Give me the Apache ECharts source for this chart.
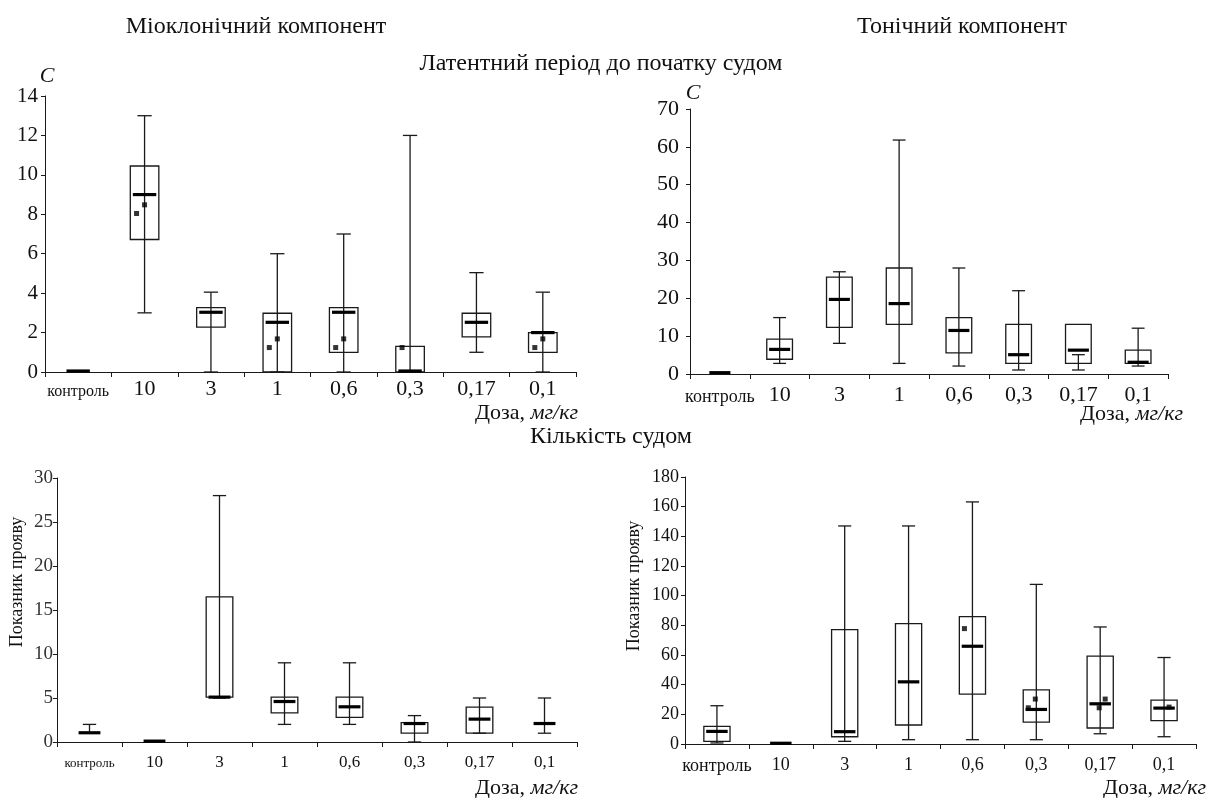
<!DOCTYPE html>
<html>
<head>
<meta charset="utf-8">
<script src="https://cdn.jsdelivr.net/npm/echarts@6/dist/echarts.min.js"></script>
<style>
html,body{margin:0;padding:0;background:#fff;}
#chart{width:1209px;height:798px;}
</style>
</head>
<body>
<div id="chart"></div>
<script>
// ---------- data ----------
const categories = ['контроль', '10', '3', '1', '0,6', '0,3', '0,17', '0,1'];

// Panel 1: myoclonic component, latency (s)
const myoLatMin = [0, 3, 0, 0, 0, 0, 1, 0];
const myoLatQ1  = [0, 6.72, 2.28, 0, 1.0, 0, 1.78, 1.0];
const myoLatMed = [0.05, 9.0, 3.03, 2.52, 3.03, 0.05, 2.52, 2.0];
const myoLatQ3  = [0, 10.45, 3.27, 2.98, 3.27, 1.3, 2.98, 2.0];
const myoLatMax = [0, 13, 4.05, 6.0, 7.0, 12.0, 5.04, 4.05];
const myoLatPtsLeft   = ['-', 8.04, '-', 1.24, 1.24, 1.24, '-', 1.24];
const myoLatPtsCenter = ['-', 8.48, '-', 1.68, 1.68, '-', '-', 1.68];

// Panel 2: tonic component, latency (s)
const tonLatMin = [0.35, 2.8, 8.1, 2.8, 2.1, 1.06, 1.06, 2.1];
const tonLatQ1  = [0.35, 3.9, 12.3, 13.1, 5.6, 2.8, 2.8, 2.8];
const tonLatMed = [0.35, 6.5, 19.7, 18.6, 11.5, 5.1, 6.3, 3.1];
const tonLatQ3  = [0.35, 9.2, 25.6, 28.0, 14.9, 13.1, 13.1, 6.3];
const tonLatMax = [0.35, 14.9, 27, 61.8, 28, 22.0, 5.1, 12.1];

// Panel 3: myoclonic component, number of seizures
const myoCntMin = [1, 0.1, 5, 2, 2, 0, 1, 1];
const myoCntQ1  = [1, 0.1, 5.1, 3.3, 2.8, 1.0, 1.0, 2];
const myoCntMed = [1.05, 0.1, 5.1, 4.6, 4.0, 2.1, 2.6, 2.1];
const myoCntQ3  = [1, 0.1, 16.5, 5.1, 5.1, 2.2, 3.97, 2];
const myoCntMax = [2, 0.1, 28, 9, 9, 3, 5, 5];

// Panel 4: tonic component, number of seizures
const tonCntMin = [0.7, 0.5, 1.8, 2.9, 2.9, 2.9, 6.9, 4.9];
const tonCntQ1  = [1.8, 0.5, 4.9, 12.8, 33.6, 14.8, 10.8, 15.7];
const tonCntMed = [8.5, 0.5, 8.3, 41.9, 65.9, 23.3, 27.1, 24.2];
const tonCntQ3  = [11.9, 0.5, 77.1, 81.1, 85.9, 36.5, 59.2, 29.6];
const tonCntMax = [25.8, 0.5, 147, 147, 163.2, 107.6, 78.9, 58.3];
const tonCntPtsLeft   = ['-', '-', '-', '-', 77.8, 24.4, '-', '-'];
const tonCntPtsCenter = ['-', '-', '-', '-', '-', 30.3, 24.4, '-'];
const tonCntPtsRight  = ['-', '-', '-', '-', '-', '-', 30.3, 24.9];

// axis ranges / ticks
const yTicks1 = {min: 0, max: 14, interval: 2};
const yTicks2 = {min: 0, max: 70, interval: 10};
const yTicks3 = {min: 0, max: 30, interval: 5};
const yTicks4 = {min: 0, max: 180, interval: 20};

// texts
const titleMyo = 'Міоклонічний компонент';
const titleTon = 'Тонічний компонент';
const titleLatency = 'Латентний період до початку судом';
const titleCount = 'Кількість судом';
const yNameSec = 'C';
const yNameCount = 'Показник прояву';
const xNameMain = 'Доза, ';
const xNameUnit = 'мг/кг';

// ---------- chart ----------
const FONT = '"Liberation Serif", "DejaVu Serif", serif';
const LINE = '#1a1a1a';

function rows(mn, q1, md, q3, mx) {
  return categories.map((c, i) => [i, mn[i], q1[i], md[i], q3[i], mx[i]]);
}

function makeRender(ratio) {
  return function (params, api) {
    const i = api.value(0);
    const vMin = api.value(1), vQ1 = api.value(2), vMed = api.value(3), vQ3 = api.value(4), vMax = api.value(5);
    const band = api.size([1, 0])[0];
    const bw = band * ratio, cw = bw * 0.5, mw = bw * 0.82;
    const pMin = api.coord([i, vMin]), pMax = api.coord([i, vMax]);
    const pQ1 = api.coord([i, vQ1]), pQ3 = api.coord([i, vQ3]), pMed = api.coord([i, vMed]);
    const cx = pMin[0];
    const st = {stroke: LINE, lineWidth: 1.3, fill: null};
    const ch = [];
    if (vMax !== vMin) {
      ch.push({type: 'line', shape: {x1: cx, y1: pMin[1], x2: cx, y2: pMax[1]}, style: st});
      ch.push({type: 'line', shape: {x1: cx - cw / 2, y1: pMin[1], x2: cx + cw / 2, y2: pMin[1]}, style: st});
      ch.push({type: 'line', shape: {x1: cx - cw / 2, y1: pMax[1], x2: cx + cw / 2, y2: pMax[1]}, style: st});
    }
    if (vQ3 !== vQ1) {
      ch.push({type: 'rect', shape: {x: cx - bw / 2, y: pQ3[1], width: bw, height: pQ1[1] - pQ3[1]}, style: st});
    }
    ch.push({type: 'line', shape: {x1: cx - mw / 2, y1: pMed[1], x2: cx + mw / 2, y2: pMed[1]},
      style: {stroke: '#000', lineWidth: 3.2}});
    return {type: 'group', children: ch};
  };
}

function xAxis(gi, numSize, ctrlSize, margin, ctrlPad) {
  return {
    type: 'category', gridIndex: gi, data: categories, boundaryGap: true,
    axisLine: {show: true, onZero: false, lineStyle: {color: LINE, width: 1}},
    axisTick: {show: true, length: 5, alignWithLabel: false, lineStyle: {color: LINE}},
    splitLine: {show: false},
    axisLabel: {
      margin: margin, interval: 0,
      formatter: (v, idx) => idx === 0 ? '{c|' + v + '}' : '{n|' + v + '}',
      rich: {
        c: {fontFamily: FONT, fontSize: ctrlSize, color: '#111', padding: [ctrlPad, 0, 0, 0]},
        n: {fontFamily: FONT, fontSize: numSize, color: '#111'}
      }
    }
  };
}

function yAxis(gi, t, size, margin, color) {
  return {
    type: 'value', gridIndex: gi, min: t.min, max: t.max, interval: t.interval,
    axisLine: {show: true, lineStyle: {color: LINE, width: 1}},
    axisTick: {show: true, length: 4, lineStyle: {color: LINE}},
    splitLine: {show: false},
    axisLabel: {margin: margin, fontFamily: FONT, fontSize: size, color: color || '#111'}
  };
}

function scatter(xi, yi, data, off) {
  return {
    type: 'scatter', xAxisIndex: xi, yAxisIndex: yi, data: data, symbol: 'rect', symbolSize: 5,
    symbolOffset: [off, 0], itemStyle: {color: '#000'}, silent: true, z: 5
  };
}

function txt(x, y, text, size, extra) {
  return {
    type: 'text', x: x, y: y,
    style: Object.assign({text: text, fontFamily: FONT, fontSize: size, fill: '#111',
      textAlign: 'center', textVerticalAlign: 'middle'}, extra || {})
  };
}

function doseLabel(xRight, y, size) {
  return {
    type: 'text', x: xRight, y: y,
    style: {
      text: '{a|' + xNameMain + '}{b|' + xNameUnit + '}',
      rich: {
        a: {fontFamily: FONT, fontSize: size, fill: '#111'},
        b: {fontFamily: FONT, fontSize: size, fontStyle: 'italic', fill: '#111'}
      },
      textAlign: 'right', textVerticalAlign: 'middle'
    }
  };
}

const chart = echarts.init(document.getElementById('chart'), null, {renderer: 'canvas'});
chart.setOption({
  animation: false,
  backgroundColor: '#fff',
  grid: [
    {left: 45, top: 96, width: 531, height: 276},
    {left: 690, top: 109, width: 478, height: 265},
    {left: 57, top: 478, width: 520, height: 264},
    {left: 685, top: 477, width: 511, height: 267}
  ],
  xAxis: [
    xAxis(0, 22, 16, 6, 6),
    xAxis(1, 22, 18, 10, 4),
    xAxis(2, 17, 13, 12, 3),
    xAxis(3, 18, 18, 12, 1)
  ],
  yAxis: [
    yAxis(0, yTicks1, 21, 7),
    yAxis(1, yTicks2, 22, 11),
    yAxis(2, yTicks3, 19, 4, '#333'),
    yAxis(3, yTicks4, 18, 6)
  ],
  series: [
    {type: 'custom', xAxisIndex: 0, yAxisIndex: 0, renderItem: makeRender(0.43),
      data: rows(myoLatMin, myoLatQ1, myoLatMed, myoLatQ3, myoLatMax), clip: false},
    scatter(0, 0, myoLatPtsLeft, -8),
    scatter(0, 0, myoLatPtsCenter, 0),
    {type: 'custom', xAxisIndex: 1, yAxisIndex: 1, renderItem: makeRender(0.43),
      data: rows(tonLatMin, tonLatQ1, tonLatMed, tonLatQ3, tonLatMax), clip: false},
    {type: 'custom', xAxisIndex: 2, yAxisIndex: 2, renderItem: makeRender(0.41),
      data: rows(myoCntMin, myoCntQ1, myoCntMed, myoCntQ3, myoCntMax), clip: false},
    {type: 'custom', xAxisIndex: 3, yAxisIndex: 3, renderItem: makeRender(0.41),
      data: rows(tonCntMin, tonCntQ1, tonCntMed, tonCntQ3, tonCntMax), clip: false},
    scatter(3, 3, tonCntPtsLeft, -8),
    scatter(3, 3, tonCntPtsCenter, -1),
    scatter(3, 3, tonCntPtsRight, 5)
  ],
  graphic: [
    txt(256, 27, titleMyo, 24),
    txt(962, 27, titleTon, 24),
    txt(601, 64, titleLatency, 24),
    txt(611, 437, titleCount, 24),
    txt(47, 76, yNameSec, 22, {fontStyle: 'italic'}),
    txt(693, 93, yNameSec, 22, {fontStyle: 'italic'}),
    {type: 'text', x: 17, y: 582, rotation: Math.PI / 2,
      style: {text: yNameCount, fontFamily: FONT, fontSize: 18, fill: '#111', textAlign: 'center', textVerticalAlign: 'middle'}},
    {type: 'text', x: 634, y: 586, rotation: Math.PI / 2,
      style: {text: yNameCount, fontFamily: FONT, fontSize: 18, fill: '#111', textAlign: 'center', textVerticalAlign: 'middle'}},
    doseLabel(578, 413, 22),
    doseLabel(1183, 414, 22),
    doseLabel(578, 788, 22),
    doseLabel(1206, 788, 22)
  ]
});
</script>
</body>
</html>
